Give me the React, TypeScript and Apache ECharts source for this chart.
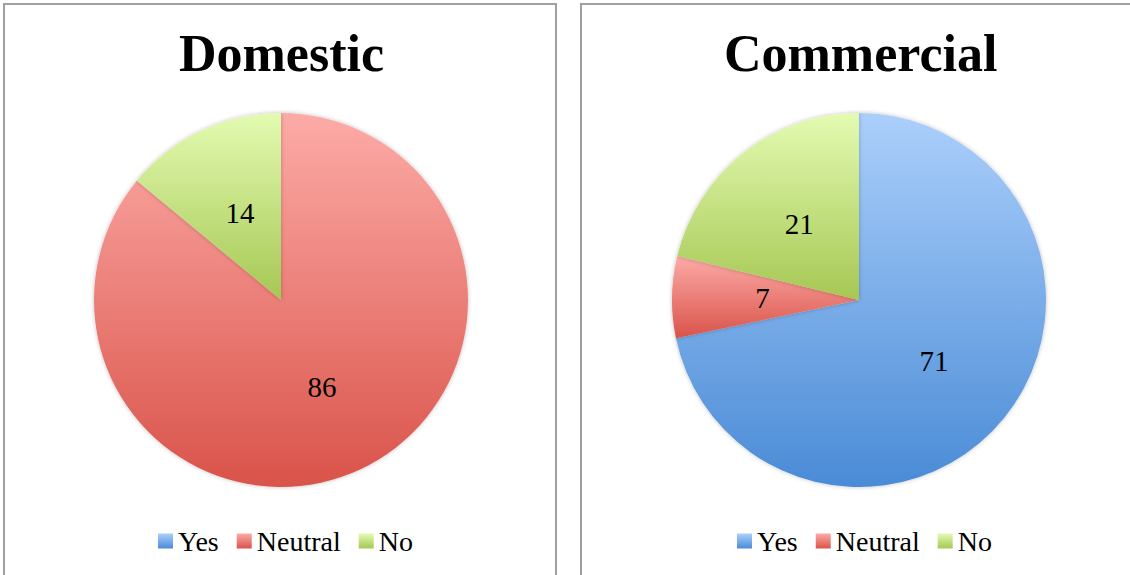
import React, { useEffect, useRef } from "react";
import * as echarts from "echarts";

const categories = ["Yes", "Neutral", "No"];
const domesticValues = [0, 86, 14];
const commercialValues = [71, 7, 21];
const titles = ["Domestic", "Commercial"];

const gradients: Record<string, [string, string]> = {
  Yes: ["#abcffb", "#4a8bd6"],
  Neutral: ["#fdaba7", "#d9534a"],
  No: ["#e3fbb1", "#a6c754"],
};

const grad = (name: string) => ({
  type: "linear",
  x: 0,
  y: 0,
  x2: 0,
  y2: 1,
  colorStops: [
    { offset: 0, color: gradients[name][0] },
    { offset: 1, color: gradients[name][1] },
  ],
});

const serif = "'Liberation Serif', 'DejaVu Serif', serif";

function makeData(values: number[]) {
  return categories.map((c, i) => ({
    name: c,
    value: values[i],
    itemStyle: { color: grad(c) },
    label: { show: values[i] > 0 },
  }));
}

export default function App() {
  const ref = useRef<HTMLDivElement>(null);
  useEffect(() => {
    if (!ref.current) return;
    const chart = echarts.init(ref.current, null, { renderer: "svg" });
    const pieCommon = {
      type: "pie",
      radius: 187,
      startAngle: 90,
      clockwise: true,
      avoidLabelOverlap: false,
      label: {
        show: true,
        position: "inside",
        color: "#000",
        fontFamily: serif,
        fontSize: 29,
        formatter: "{c}",
      },
      labelLine: { show: false },
      emphasis: { disabled: true },
      itemStyle: {
        borderWidth: 0,
        shadowBlur: 4,
        shadowColor: "rgba(0,0,0,0.25)",
      },
    };
    const legendCommon = {
      data: categories,
      icon: "rect",
      itemWidth: 15,
      itemHeight: 15,
      itemGap: 18,
      top: 522,
      textStyle: { fontFamily: serif, fontSize: 28, color: "#000" },
      selectedMode: false,
    };
    const titleStyle = { fontFamily: serif, fontWeight: "bold", fontSize: 52, color: "#000" };
    chart.setOption({
      animation: false,
      backgroundColor: "#fff",
      title: [
        { text: titles[0], left: 179, top: 27, padding: 0, textStyle: titleStyle },
        { text: titles[1], left: 724, top: 27, padding: 0, textStyle: titleStyle },
      ],
      legend: [
        { ...legendCommon, left: 153 },
        { ...legendCommon, left: 732 },
      ],
      graphic: [
        {
          type: "rect",
          shape: { x: 4, y: 4, width: 552, height: 580 },
          style: { fill: "none", stroke: "#a0a0a0", lineWidth: 2 },
          z: -1,
        },
        {
          type: "rect",
          shape: { x: 581, y: 4, width: 560, height: 580 },
          style: { fill: "none", stroke: "#a0a0a0", lineWidth: 2 },
          z: -1,
        },
      ],
      series: [
        { ...pieCommon, name: titles[0], center: [281, 300], data: makeData(domesticValues) },
        { ...pieCommon, name: titles[1], center: [859, 300], data: makeData(commercialValues) },
      ],
    });
    return () => chart.dispose();
  }, []);
  return (
    <div
      ref={ref}
      style={{ position: "absolute", left: 0, top: 0, width: 1130, height: 575 }}
    />
  );
}
